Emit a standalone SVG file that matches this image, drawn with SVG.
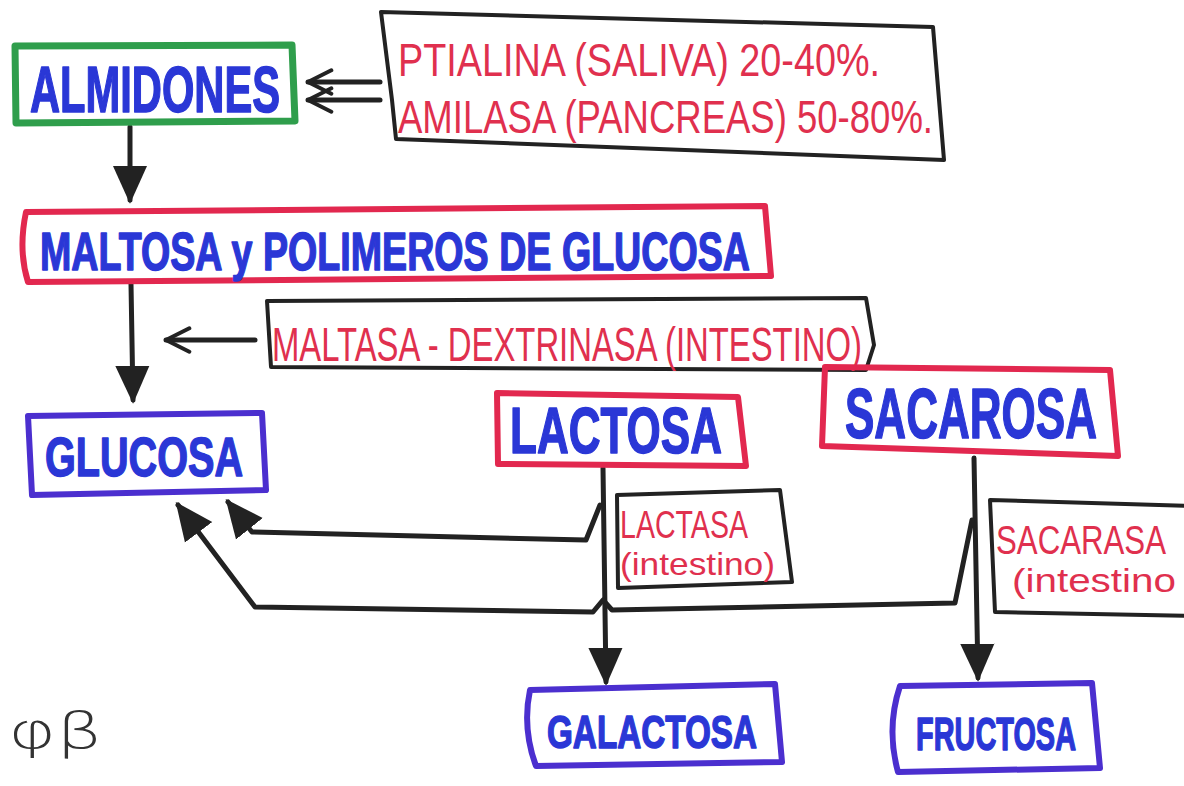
<svg xmlns="http://www.w3.org/2000/svg" width="1184" height="786" viewBox="0 0 1184 786">
  <defs>
    <marker id="big" viewBox="0 0 10 10" refX="9" refY="5" markerWidth="38" markerHeight="38" markerUnits="userSpaceOnUse" orient="auto">
      <path d="M0,0.5 L10,5 L0,9.5 Z" fill="#222"/>
    </marker>
    <marker id="open" viewBox="0 0 12 12" refX="11" refY="6" markerWidth="28" markerHeight="28" markerUnits="userSpaceOnUse" orient="auto">
      <path d="M1,1 L11,6 L1,11" fill="none" stroke="#222" stroke-width="1.7" stroke-linecap="round" stroke-linejoin="round"/>
    </marker>
  </defs>
  <style>
    .bg { fill: #ffffff; }
    .box { fill: none; stroke-linejoin: round; stroke-linecap: round; }
    .green { stroke: #2f9e4c; stroke-width: 7; }
    .red { stroke: #e2284f; stroke-width: 6; }
    .purple { stroke: #4b2fcf; stroke-width: 6; }
    .ink { stroke: #222; stroke-width: 4; }
    .wire { fill: none; stroke: #222; stroke-width: 5; stroke-linecap: round; stroke-linejoin: round; }
    .main { font-family: "Liberation Sans", Arial, sans-serif; font-weight: bold; fill: #2a37d6; stroke: #2a37d6; stroke-width: 1.5; stroke-linejoin: round; }
    .note { font-family: "Liberation Sans", Arial, sans-serif; fill: #e0304e; }
    .sig { font-family: "DejaVu Sans", sans-serif; fill: #333; }
  </style>
  <rect class="bg" width="1184" height="786"/>

  <!-- connectors -->
  <g id="connectors">
    <!-- almidones -> maltosa -->
    <line class="wire" x1="130" y1="127" x2="130" y2="200" marker-end="url(#big)"/>
    <!-- enzymes -> almidones (double arrow) -->
    <line class="wire" x1="380" y1="82" x2="308" y2="82" marker-end="url(#open)"/>
    <line class="wire" x1="380" y1="100" x2="308" y2="100" marker-end="url(#open)"/>
    <!-- maltosa -> glucosa -->
    <line class="wire" x1="131" y1="284" x2="133" y2="400" marker-end="url(#big)"/>
    <!-- maltasa -> vertical -->
    <line class="wire" x1="255" y1="340" x2="166" y2="340" marker-end="url(#open)"/>
    <!-- lactosa -> galactosa -->
    <line class="wire" x1="603" y1="468" x2="606" y2="682" marker-end="url(#big)"/>
    <!-- sacarosa -> fructosa -->
    <line class="wire" x1="974" y1="458" x2="978" y2="678" marker-end="url(#big)"/>
    <!-- lactosa -> glucosa -->
    <path class="wire" d="M600,505 L586,540 L252,532 L228,502" marker-end="url(#big)"/>
    <!-- sacarosa -> glucosa -->
    <path class="wire" d="M972,520 L955,603 L612,610 L603,600 L593,612 L255,607 L178,505" marker-end="url(#big)"/>
  </g>

  <g id="almidones">
    <path class="box green" d="M15,46 L292,45 L295,121 L16,123 Z"/>
    <text class="main" x="30" y="112" font-size="64" textLength="250" lengthAdjust="spacingAndGlyphs">ALMIDONES</text>
  </g>

  <g id="enzimas-almidon">
    <path class="box ink" d="M381,12 L933,27 L944,160 L396,139 L392,100 Z"/>
    <text class="note" x="398" y="76" font-size="46" textLength="482" lengthAdjust="spacingAndGlyphs">PTIALINA (SALIVA) 20-40%.</text>
    <text class="note" x="398" y="133" font-size="46" textLength="535" lengthAdjust="spacingAndGlyphs">AMILASA (PANCREAS) 50-80%.</text>
  </g>

  <g id="maltosa">
    <path class="box red" d="M26,212 L765,206 L771,276 L28,282 Q18,250 26,212 Z"/>
    <text class="main" x="40" y="270" font-size="54" textLength="710" lengthAdjust="spacingAndGlyphs">MALTOSA y POLIMEROS DE GLUCOSA</text>
  </g>

  <g id="maltasa">
    <path class="box ink" d="M267,301 L866,298 L874,345 L866,370 L271,367 Z"/>
    <text class="note" x="272" y="361" font-size="48" textLength="590" lengthAdjust="spacingAndGlyphs">MALTASA - DEXTRINASA (INTESTINO)</text>
  </g>

  <g id="glucosa">
    <path class="box purple" d="M28,416 L262,413 L266,490 L32,495 Z"/>
    <text class="main" x="45" y="476" font-size="56" textLength="198" lengthAdjust="spacingAndGlyphs">GLUCOSA</text>
  </g>

  <g id="lactosa">
    <path class="box red" d="M497,393 L738,397 L746,466 L498,464 Z"/>
    <text class="main" x="510" y="453" font-size="64" textLength="212" lengthAdjust="spacingAndGlyphs">LACTOSA</text>
  </g>

  <g id="sacarosa">
    <path class="box red" d="M825,367 L1110,370 L1118,456 L822,446 Z"/>
    <text class="main" x="845" y="438" font-size="70" textLength="252" lengthAdjust="spacingAndGlyphs">SACAROSA</text>
  </g>

  <g id="lactasa">
    <path class="box ink" d="M617,495 L780,490 L792,582 L618,588 Z"/>
    <text class="note" x="620" y="538" font-size="38" textLength="128" lengthAdjust="spacingAndGlyphs">LACTASA</text>
    <text class="note" x="620" y="575" font-size="32" textLength="155" lengthAdjust="spacingAndGlyphs">(intestino)</text>
  </g>

  <g id="sacarasa">
    <path class="box ink" d="M1192,506 L990,500 L995,612 L1192,616"/>
    <text class="note" x="996" y="554" font-size="40" textLength="170" lengthAdjust="spacingAndGlyphs">SACARASA</text>
    <text class="note" x="1012" y="592" font-size="34" textLength="164" lengthAdjust="spacingAndGlyphs">(intestino</text>
  </g>

  <g id="galactosa">
    <path class="box purple" d="M530,690 L775,684 L782,762 L536,766 Q522,728 530,690 Z"/>
    <text class="main" x="547" y="748" font-size="46" textLength="210" lengthAdjust="spacingAndGlyphs">GALACTOSA</text>
  </g>

  <g id="fructosa">
    <path class="box purple" d="M900,686 L1092,683 L1100,768 L898,772 Q886,728 900,686 Z"/>
    <text class="main" x="916" y="750" font-size="46" textLength="160" lengthAdjust="spacingAndGlyphs">FRUCTOSA</text>
  </g>

  <g id="firma">
    <text class="sig" x="8" y="748" font-size="50" font-weight="200" textLength="95" lengthAdjust="spacingAndGlyphs">φβ</text>
  </g>
</svg>
